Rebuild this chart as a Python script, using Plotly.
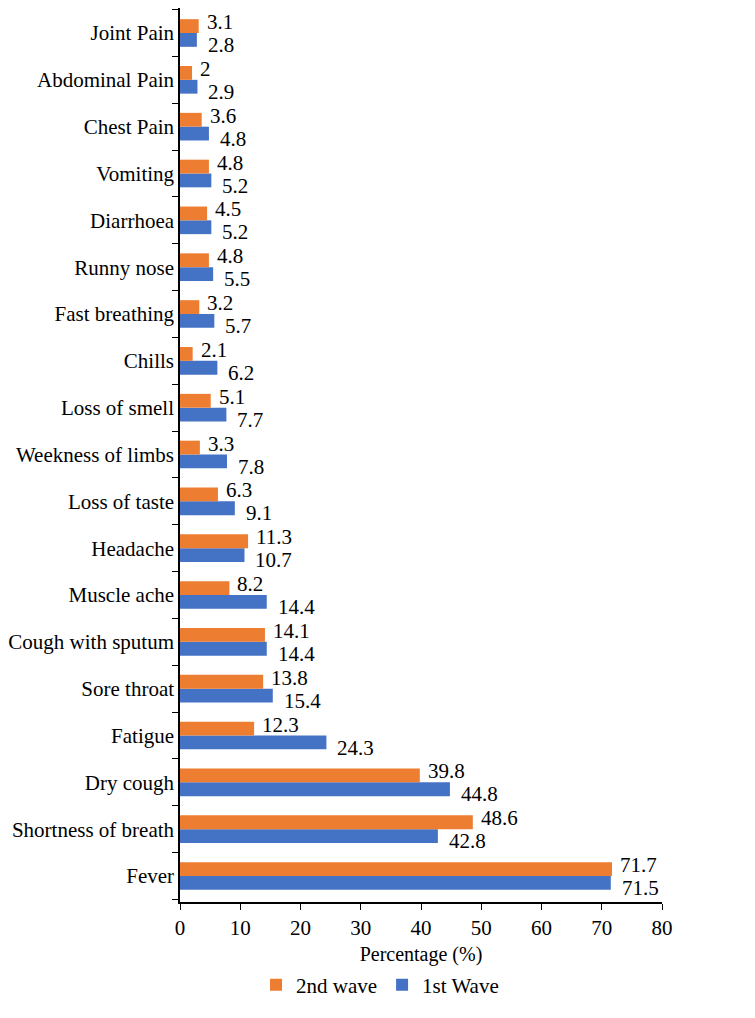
import plotly.graph_objects as go

categories = ["Fever", "Shortness of breath", "Dry cough", "Fatigue", "Sore throat",
              "Cough with sputum", "Muscle ache", "Headache", "Loss of taste",
              "Weekness of limbs", "Loss of smell", "Chills", "Fast breathing",
              "Runny nose", "Diarrhoea", "Vomiting", "Chest Pain", "Abdominal Pain",
              "Joint Pain"]
wave1 = [71.5, 42.8, 44.8, 24.3, 15.4, 14.4, 14.4, 10.7, 9.1, 7.8, 7.7, 6.2, 5.7,
         5.5, 5.2, 5.2, 4.8, 2.9, 2.8]
wave2 = [71.7, 48.6, 39.8, 12.3, 13.8, 14.1, 8.2, 11.3, 6.3, 3.3, 5.1, 2.1, 3.2,
         4.8, 4.5, 4.8, 3.6, 2, 3.1]
x_ticks = [0, 10, 20, 30, 40, 50, 60, 70, 80]

BLUE = "#4472C4"
ORANGE = "#ED7D31"
FONT = "Liberation Serif"

fig = go.Figure()
fig.add_trace(go.Bar(y=categories, x=wave1, orientation="h", name="1st Wave",
                     marker=dict(color=BLUE, line=dict(width=0))))
fig.add_trace(go.Bar(y=categories, x=wave2, orientation="h", name="2nd wave",
                     marker=dict(color=ORANGE, line=dict(width=0))))

annotations = []
for c, v in zip(categories, wave2):
    annotations.append(dict(x=v, y=c, text=f"{v:g}", showarrow=False, xanchor="left",
                            yanchor="middle", xshift=6, yshift=11,
                            font=dict(family=FONT, size=21, color="black")))
for c, v in zip(categories, wave1):
    annotations.append(dict(x=v, y=c, text=f"{v:g}", showarrow=False, xanchor="left",
                            yanchor="middle", xshift=9, yshift=-12,
                            font=dict(family=FONT, size=21, color="black")))

fig.update_layout(
    width=747, height=1010,
    margin=dict(l=167, r=93, t=0, b=116),
    paper_bgcolor="white", plot_bgcolor="white",
    barmode="group", bargap=0.41, bargroupgap=0,
    font=dict(family=FONT, size=21, color="black"),
    annotations=annotations,
    showlegend=True,
    legend=dict(orientation="h", x=0.415, xanchor="center", y=-0.093, yanchor="middle",
                traceorder="reversed", font=dict(family=FONT, size=21),
                itemwidth=30, itemsizing="constant"),
    xaxis=dict(range=[0, 80], tickvals=x_ticks, showgrid=False, zeroline=False,
               showline=True, linecolor="black", linewidth=1.5,
               ticks="outside", ticklen=6, tickcolor="black",
               tickfont=dict(family=FONT, size=21),
               title=dict(text="Percentage (%)", font=dict(family=FONT, size=20), standoff=8)),
    yaxis=dict(showgrid=False, zeroline=False, showline=True, linecolor="black",
               linewidth=1.5, ticks="outside", ticklen=6, tickcolor="black",
               tickson="boundaries", tickfont=dict(family=FONT, size=21),
               categoryorder="array", categoryarray=categories),
)

fig.write_html("out.html")
